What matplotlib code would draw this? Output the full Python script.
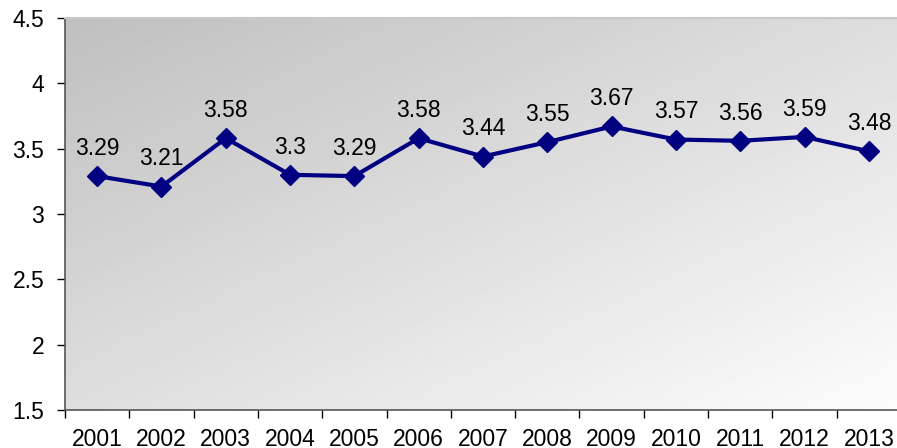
import numpy as np
import matplotlib.pyplot as plt

years = ['2001', '2002', '2003', '2004', '2005', '2006', '2007',
         '2008', '2009', '2010', '2011', '2012', '2013']
values = [3.29, 3.21, 3.58, 3.3, 3.29, 3.58, 3.44, 3.55, 3.67, 3.57, 3.56, 3.59, 3.48]
yticks = [1.5, 2, 2.5, 3, 3.5, 4, 4.5]

plt.rcParams['font.family'] = ['Liberation Sans', 'DejaVu Sans']
FS = 16.5

fig = plt.figure(figsize=(8.97, 4.48), dpi=100)
ax = fig.add_axes([65 / 897, 38 / 448, 836 / 897, 392 / 448])

# diagonal gray gradient: dark top-left, near white bottom-right
gx, gy = np.meshgrid(np.linspace(0, 1, 200), np.linspace(0, 1, 200))
t = 0.5 * gx + 0.5 * gy
shade = 0.75 + 0.24 * t
ax.imshow(shade, cmap='gray', vmin=0, vmax=1, extent=[0, 1, 0, 1],
          transform=ax.transAxes, aspect='auto', zorder=0, origin='upper')

x = np.arange(len(years))
ax.plot(x, values, color='#000080', lw=3, marker='D', ms=10, zorder=3, clip_on=False)
for xi, v in zip(x, values):
    ax.annotate(f'{v:g}', (xi, v), xytext=(0, 20), textcoords='offset points',
                ha='center', va='center', fontsize=FS)

ax.set_xlim(-0.5, len(years) - 0.5)
ax.set_ylim(1.5, 4.5)
ax.set_yticks(yticks)
ax.set_yticklabels([f'{v:g}' for v in yticks], fontsize=FS)
ax.set_xticks(x)
ax.set_xticklabels(years, fontsize=FS)
ax.set_xticks(np.arange(len(years)) - 0.5, minor=True)
ax.tick_params(axis='x', which='major', length=0, pad=13)
ax.tick_params(axis='x', which='minor', length=6, width=1)
ax.tick_params(axis='y', length=6, width=1, pad=9)

for side in ['left', 'bottom']:
    ax.spines[side].set_color('#555555')
    ax.spines[side].set_linewidth(1.2)
ax.spines['right'].set_visible(False)
ax.spines['top'].set_color('#c8c8c8')
ax.spines['top'].set_linewidth(1.5)

fig.savefig('out.png', dpi=100)
